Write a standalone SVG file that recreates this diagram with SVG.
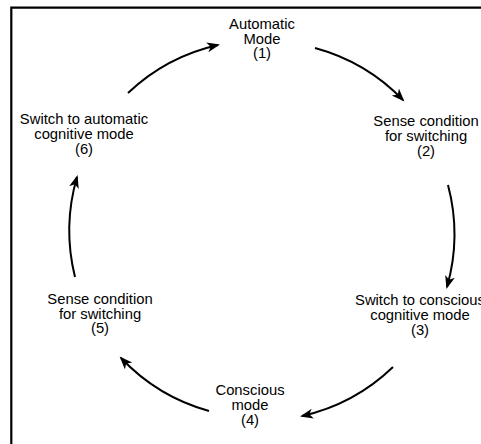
<svg xmlns="http://www.w3.org/2000/svg" width="481" height="444" viewBox="0 0 481 444">
<defs>
<style>
text{font-family:"Liberation Sans",Arial,sans-serif;font-size:14.8px;fill:#000;text-anchor:middle}
.c{fill:none;stroke:#000;stroke-width:2}
.f{fill:none;stroke:#000;stroke-width:2.2}
</style>
<marker id="ah" markerUnits="userSpaceOnUse" markerWidth="14" markerHeight="12" viewBox="0 0 14 12" refX="11" refY="5" orient="auto">
<path d="M0,0 L13,5 L0,10 L3.5,5 z" fill="#000"/>
</marker>
</defs>
<rect width="481" height="444" fill="#fff"/>
<path class="f" d="M11.3,444 V7.7 H481"/>
<g id="n1"><text x="262" y="29">Automatic</text><text x="262" y="43.5">Mode</text><text x="262" y="58">(1)</text></g>
<g id="n2"><text x="426" y="126">Sense condition</text><text x="426" y="141">for switching</text><text x="426" y="156">(2)</text></g>
<g id="n3"><text x="420" y="305">Switch to conscious</text><text x="420" y="320">cognitive mode</text><text x="420" y="334.5">(3)</text></g>
<g id="n4"><text x="250" y="395">Conscious</text><text x="250" y="410">mode</text><text x="250" y="424.5">(4)</text></g>
<g id="n5"><text x="100" y="304">Sense condition</text><text x="100" y="318.5">for switching</text><text x="100" y="333">(5)</text></g>
<g id="n6"><text x="84" y="124">Switch to automatic</text><text x="84" y="139">cognitive mode</text><text x="84" y="154">(6)</text></g>
<g id="connectors">
<path class="c" marker-end="url(#ah)" d="M128,93 A192,192 0 0 1 218,45"/>
<path class="c" marker-end="url(#ah)" d="M315,48 A192,192 0 0 1 403,100"/>
<path class="c" marker-end="url(#ah)" d="M448,185 A192,192 0 0 1 447,287"/>
<path class="c" marker-end="url(#ah)" d="M393,367 A192,192 0 0 1 302,416"/>
<path class="c" marker-end="url(#ah)" d="M209,411 A192,192 0 0 1 121,358"/>
<path class="c" marker-end="url(#ah)" d="M75,277 A192,192 0 0 1 77,177"/>
</g>
</svg>
